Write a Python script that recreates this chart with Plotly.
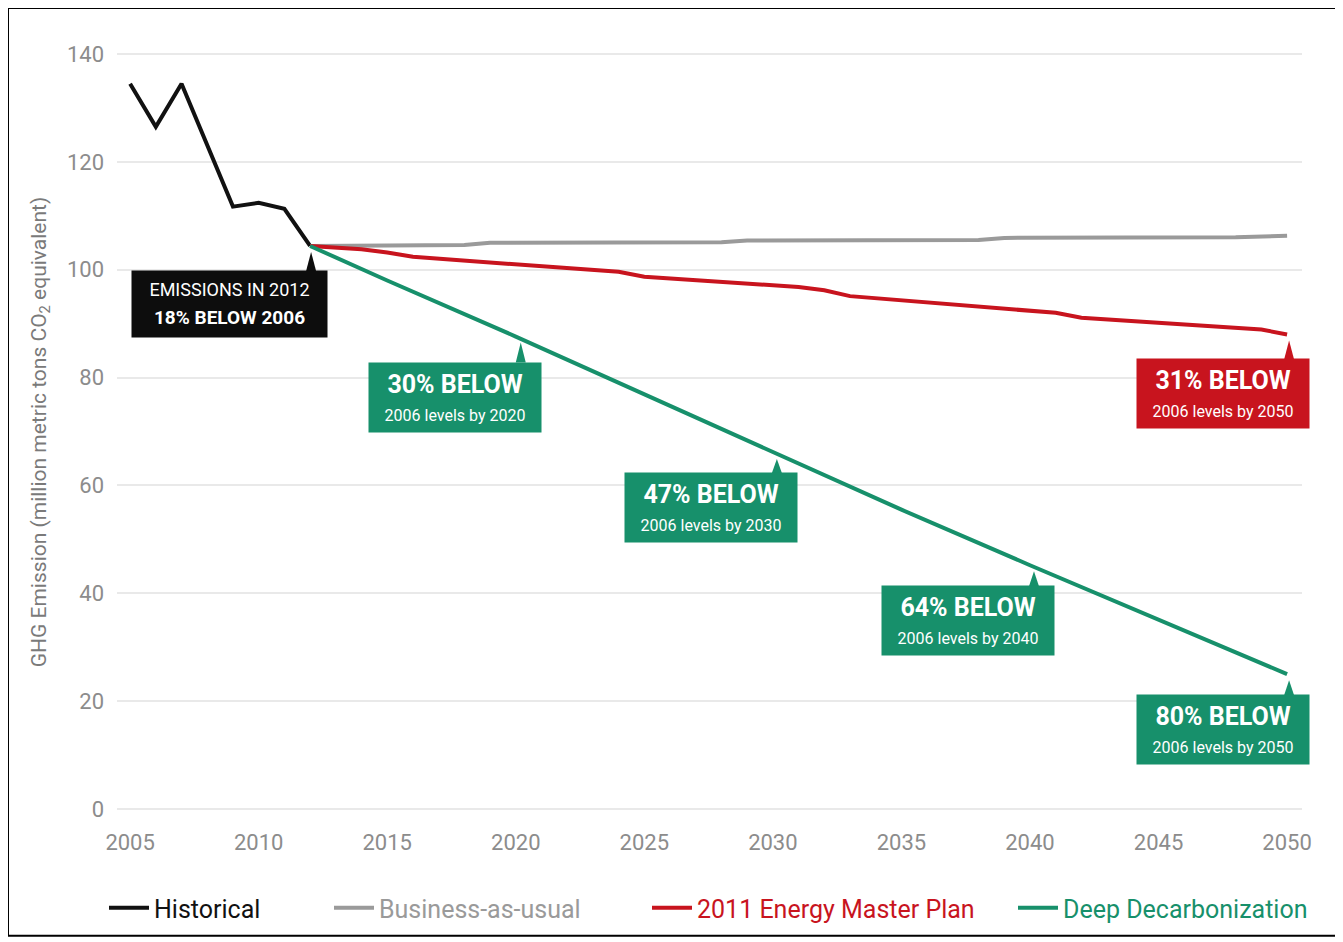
import plotly.graph_objects as go

# ---------------- data ----------------
hist_years = [2005, 2006, 2007, 2008, 2009, 2010, 2011, 2012]
hist_vals = [134.5, 126.5, 134.5, 123.0, 111.7, 112.4, 111.3, 104.4]

bau_years = [2012, 2015, 2018, 2019, 2025, 2028, 2029, 2035, 2038, 2039, 2045, 2048, 2050]
bau_vals = [104.4, 104.5, 104.6, 105.0, 105.0, 105.1, 105.4, 105.4, 105.5, 105.9, 105.9, 106.0, 106.3]

emp_years = [2012, 2014, 2015, 2016, 2024, 2025, 2031, 2032, 2033, 2041, 2042, 2049, 2050]
emp_vals = [104.4, 103.8, 103.2, 102.4, 99.6, 98.7, 96.8, 96.2, 95.1, 92.0, 91.1, 88.9, 88.0]

dd_years = [2012, 2015, 2020, 2025, 2030, 2035, 2040, 2045, 2050]
dd_vals = [104.4, 98.0, 87.6, 76.9, 66.0, 55.5, 45.2, 35.0, 25.0]

series_names = ["Historical", "Business-as-usual", "2011 Energy Master Plan", "Deep Decarbonization"]
x_ticks = [2005, 2010, 2015, 2020, 2025, 2030, 2035, 2040, 2045, 2050]
y_ticks = [0, 20, 40, 60, 80, 100, 120, 140]

# callouts: (series, year, line1, line2)
callouts = [
    ("hist", 2012, "EMISSIONS IN 2012", "18% BELOW 2006"),
    ("dd", 2020, "30% BELOW", "2006 levels by 2020"),
    ("dd", 2030, "47% BELOW", "2006 levels by 2030"),
    ("dd", 2040, "64% BELOW", "2006 levels by 2040"),
    ("dd", 2050, "80% BELOW", "2006 levels by 2050"),
    ("emp", 2050, "31% BELOW", "2006 levels by 2050"),
]

# ---------------- style ----------------
FONT = "Roboto, Liberation Sans, sans-serif"
C_HIST = "#111111"
C_BAU = "#9a9a9a"
C_EMP = "#c8141e"
C_DD = "#17906b"
TICK_C = "#8c8c8c"
GRID_C = "#e9e9e9"

series = {
    "hist": (hist_years, hist_vals, C_HIST),
    "bau": (bau_years, bau_vals, C_BAU),
    "emp": (emp_years, emp_vals, C_EMP),
    "dd": (dd_years, dd_vals, C_DD),
}

fig = go.Figure()
legend_ids = ["legend", "legend2", "legend3", "legend4"]
for key, name, lg in zip(["hist", "bau", "emp", "dd"], series_names, legend_ids):
    xs, ys, col = series[key]
    fig.add_trace(go.Scatter(x=xs, y=ys, mode="lines", name=name,
                             line=dict(color=col, width=4), legend=lg,
                             hoverinfo="skip"))

# per-callout pixel placement: (box top below point, pointer x offset)
placement = [(24, 0), (25, 4), (19, 3), (20, 3), (20, 1), (24, 1)]
for (key, yr, l1, l2), (top, dx) in zip(callouts, placement):
    xs, ys, col = series[key]
    yv = ys[xs.index(yr)]
    if key == "hist":
        bg, w, h, right = "#0d0d0d", 195, 66, 18
        txt = (f"<span style='font-size:18px'>{l1}</span><br>"
               f"<span style='font-size:19px'><b>{l2}</b></span>")
        base = 22
    else:
        bg = col
        w, h, right = 172, 69, 22
        txt = (f"<b><span style='font-size:25px'>{l1}</span></b><br>"
               f"<span style='font-size:16px'>{l2}</span>")
        base = 21
    fig.add_annotation(x=yr, y=yv, xref="x", yref="y", text=txt, showarrow=False,
                       xanchor="right", yanchor="top", xshift=right + dx, yshift=-top,
                       width=w, height=h, bgcolor=bg, borderpad=0, align="center",
                       valign="middle", font=dict(family=FONT, size=base, color="white"))
    fig.add_shape(type="path", xref="x", yref="y", xsizemode="pixel", ysizemode="pixel",
                  xanchor=yr, yanchor=yv,
                  path=f"M {dx + 1} -6 L {dx - 4} {-top - 1} L {dx + 6} {-top - 1} Z",
                  fillcolor=bg, line=dict(width=0))

# page geometry (page body has an 8px margin)
OFF = 8
PW, PH = 1343, 942
L, T, Rpage, Bpage = 117, 50, 1302, 815    # plot area in page pixels
Wf, Hf = PW - OFF, PH - OFF
pw, ph = Rpage - L, Bpage - T

# outer frame (page px 8..1337, 7..937)
fig.add_shape(type="rect", xref="paper", yref="paper",
              x0=(8 - L) / pw, x1=(1337 - L) / pw,
              y0=(Bpage - 937) / ph, y1=(Bpage - 8) / ph,
              line=dict(color="black", width=2), fillcolor="rgba(0,0,0,0)", layer="below")

legend_x = [104, 329, 647, 1013]
legend_cols = [C_HIST, C_BAU, C_EMP, C_DD]
layout_legends = {}
for lg, lx, lc in zip(legend_ids, legend_x, legend_cols):
    layout_legends[lg] = dict(x=(lx - L) / pw, y=(Bpage - 908) / ph, xanchor="left", yanchor="middle",
                              orientation="h", bgcolor="rgba(0,0,0,0)",
                              font=dict(family=FONT, size=25, color=lc), itemwidth=40)

fig.update_layout(
    width=Wf, height=Hf,
    margin=dict(l=L - OFF, r=Wf - (Rpage - OFF), t=T - OFF, b=Hf - (Bpage - OFF)),
    paper_bgcolor="white", plot_bgcolor="white",
    font=dict(family=FONT, color=TICK_C),
    xaxis=dict(range=[2004.49, 2050.58], tickvals=x_ticks, showgrid=False, zeroline=False,
               showline=False, ticks="", tickfont=dict(family=FONT, size=22, color=TICK_C),
               ticklabelstandoff=13, fixedrange=True),
    yaxis=dict(range=[-0.93, 140.74], tickvals=y_ticks, showgrid=True, gridcolor=GRID_C,
               gridwidth=1.5, zeroline=False, showline=False, ticks="",
               tickfont=dict(family=FONT, size=22, color=TICK_C), ticklabelstandoff=12,
               title=dict(text="GHG Emission (million metric tons CO<sub>2</sub> equivalent)",
                          font=dict(family=FONT, size=21, color="#7a7a7a"), standoff=14),
               fixedrange=True),
    showlegend=True,
    **layout_legends,
)

fig.write_html("out.html")
